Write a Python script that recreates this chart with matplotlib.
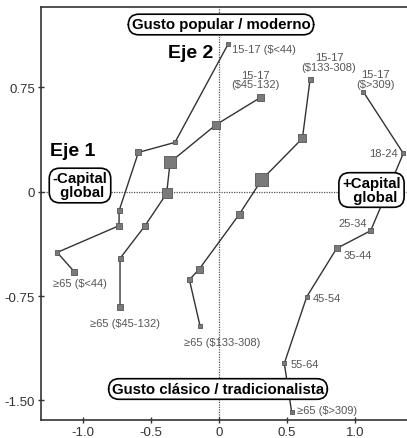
import matplotlib
matplotlib.use("Agg")
import matplotlib.pyplot as plt

plt.rcParams['font.family'] = ['Liberation Sans', 'DejaVu Sans']

# ---- data ----
s1_x = [0.068, -0.324, -0.593, -0.735, -0.735, -1.190, -1.064]
s1_y = [1.061, 0.353, 0.281, -0.138, -0.245, -0.437, -0.576]
s2_x = [0.306, -0.022, -0.360, -0.385, -0.544, -0.728, -0.728]
s2_y = [0.676, 0.480, 0.210, -0.013, -0.245, -0.480, -0.827]
s3_x = [0.669, 0.613, 0.314, 0.147, -0.145, -0.218, -0.140]
s3_y = [0.803, 0.382, 0.085, -0.166, -0.556, -0.633, -0.963]
s4_x = [1.061, 1.355, 1.115, 0.865, 0.645, 0.480, 0.534]
s4_y = [0.716, 0.274, -0.281, -0.408, -0.755, -1.233, -1.585]

series_x = [s1_x, s2_x, s3_x, s4_x]
series_y = [s1_y, s2_y, s3_y, s4_y]

# marker sizes (px) per point
s1_size = [4, 4, 6, 5, 6, 4.5, 6]
s2_size = [6.5, 8, 12, 10, 6, 5, 6]
s3_size = [5, 8, 13, 7, 7, 5, 4]
s4_size = [4, 4, 5, 6, 4, 4, 4]
series_size = [s1_size, s2_size, s3_size, s4_size]

x_ticks = [-1.0, -0.5, 0, 0.5, 1.0]
x_ticklabels = ["-1.0", "-0.5", "0", "0.5", "1.0"]
y_ticks = [0.75, 0, -0.75, -1.50]
y_ticklabels = ["0.75", "0", "-0.75", "-1.50"]

# point labels: (series index, point index, text, dx px, dy px, ha)
point_labels = [
    (0, 0, "15-17 ($<44)", 4, -5, 'left'),
    (1, 0, "15-17\n($45-132)", -5, 18, 'center'),
    (2, 0, "15-17\n($133-308)", 19, 18, 'center'),
    (3, 0, "15-17\n($>309)", 12, 13, 'center'),
    (3, 1, "18-24", -6, 0, 'right'),
    (3, 2, "25-34", -4, 8, 'right'),
    (3, 3, "35-44", 7, -7, 'left'),
    (3, 4, "45-54", 6, -1, 'left'),
    (3, 5, "55-64", 6, -1, 'left'),
    (3, 6, "\u226565 ($>309)", 5, 2, 'left'),
    (0, 6, "\u226565 ($<44)", 6, -11, 'center'),
    (1, 6, "\u226565 ($45-132)", 5, -16, 'center'),
    (2, 6, "\u226565 ($133-308)", 22, -16, 'center'),
]

W, H = 407, 439
fig = plt.figure(figsize=(W / 100, H / 100), dpi=100)
ax = fig.add_axes([41 / W, 1 - 421 / H, 1 - 41 / W, (421 - 8) / H])
ax.set_xlim(-1.309, 1.382)
ax.set_ylim(-1.640, 1.325)

ax.axvline(0, color='#555555', lw=0.9, ls=(0, (1, 1)), zorder=1)
ax.axhline(0, color='#555555', lw=0.9, ls=(0, (1, 1)), zorder=1)

for xs, ys, ss in zip(series_x, series_y, series_size):
    ax.plot(xs, ys, color='#333333', lw=1.0, zorder=2)
    ax.scatter(xs, ys, s=[(p * 0.72) ** 2 for p in ss], marker='s',
               color='#7a7a7a', edgecolor='#555555', linewidths=0.6, zorder=3)

for si, pi, txt, dx, dy, ha in point_labels:
    ax.annotate(txt, (series_x[si][pi], series_y[si][pi]), xytext=(dx, dy),
                textcoords='offset pixels', ha=ha, va='center',
                fontsize=8, color='#555555', linespacing=0.95, zorder=4)

box = dict(boxstyle='round,pad=0.22,rounding_size=0.7', fc='white', ec='black', lw=1.2)

def figtext(px, py, s, **kw):
    fig.text(px / W, 1 - py / H, s, **kw)

figtext(221, 25.5, "Gusto popular / moderno", ha='center', va='center',
        fontsize=10.8, fontweight='bold', bbox=box, zorder=5)
figtext(218, 390, "Gusto cl\u00e1sico / tradicionalista", ha='center', va='center',
        fontsize=10.8, fontweight='bold', bbox=box, zorder=5)
figtext(80, 186.5, "-Capital\n global", ha='center', va='center',
        fontsize=10.8, fontweight='bold', bbox=box, linespacing=1.0, zorder=5)
figtext(371.5, 191, "+Capital\n  global", ha='center', va='center',
        fontsize=10.8, fontweight='bold', bbox=box, linespacing=1.0, zorder=5)
figtext(213, 53, "Eje 2", ha='right', va='center', fontsize=14, fontweight='bold')
figtext(50, 152, "Eje 1", ha='left', va='center', fontsize=14, fontweight='bold')

ax.set_xticks(x_ticks)
ax.set_xticklabels(x_ticklabels)
ax.set_yticks(y_ticks)
ax.set_yticklabels(y_ticklabels)
ax.tick_params(direction='inout', length=5, width=1, labelsize=9.5, colors='#333333',
               pad=2)
for side in ['top', 'left', 'bottom']:
    ax.spines[side].set_color('#333333')
    ax.spines[side].set_linewidth(1.2)
ax.spines['right'].set_visible(False)

fig.savefig('out.png', dpi=100)
